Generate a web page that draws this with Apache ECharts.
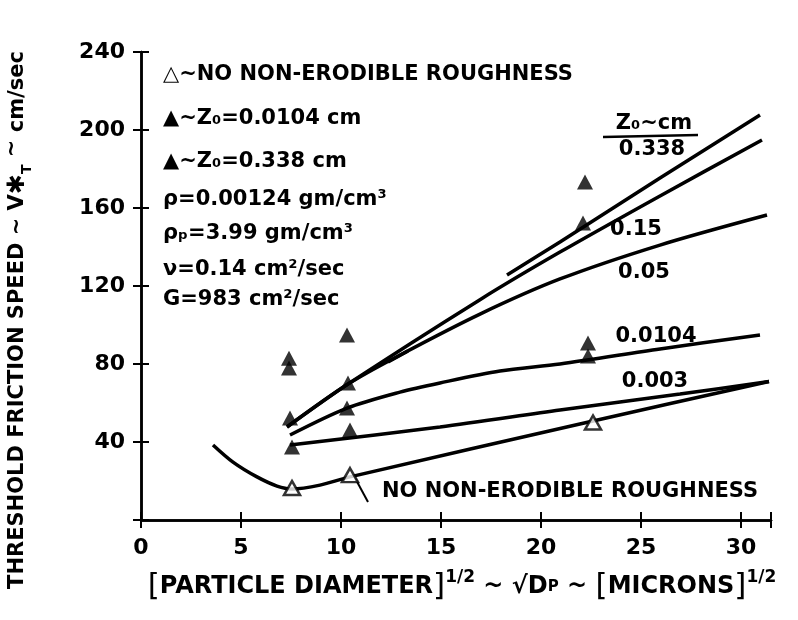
<!DOCTYPE html>
<html>
<head>
<meta charset="utf-8">
<script src="https://cdn.jsdelivr.net/npm/echarts@6/dist/echarts.min.js"></script>
<style>
  html, body { margin: 0; padding: 0; background: #fff; }
  #chart { width: 798px; height: 620px; }
</style>
</head>
<body>
<div id="chart"></div>
<script>
/* ── Data ─────────────────────────────────────────────── */
// [sqrt(Dp), V*T] pairs
const noRoughCurve = [[3.6,38.5],[4.6,29.7],[5.8,22.1],[6.8,17.4],[7.55,15.9],[8.95,17.9],[10.45,22.1],[22.6,50.8],[31.4,71]];
const z0003Curve   = [[7.45,38.5],[14.95,47.7],[20.95,56.4],[26.95,64.6],[31.4,71]];
const z00104Curve  = [[7.45,43.6],[10.3,57.4],[12.95,65.6],[14.95,70.3],[17.95,76.4],[20.95,80],[25.95,87.7],[30.95,94.9]];
const z005Curve    = [[7.3,47.7],[10.35,69.7],[12.95,84.6],[16.95,105.6],[20.95,123.6],[25.95,141],[31.3,156.4]];
const z015Curve    = [[7.3,47.7],[10.35,69.7],[16.95,113],[20.95,137.4],[25.95,166.2],[31.05,194.9]];
const z0338Curve   = [[12.35,81],[13.35,86.7],null,[18.3,125.6],[20.95,142.6],[25.95,175.4],[30.95,207.7]];
const openPoints   = [[7.55,16.4],[10.45,23],[22.6,50]];
const filledPoints = [[7.45,52.3],[7.4,78],[7.4,83],[7.55,37.4],[10.35,70.3],[10.3,57.4],[10.45,46.2],[10.3,94.9],[22.2,173.3],[22.1,152.3],[22.35,90.8],[22.35,84.1]];
const leaderLine   = [[10.7,21.5],[11.35,9.2]];

const xTicks = [0, 5, 10, 15, 20, 25, 30];
const yTicks = [40, 80, 120, 160, 200, 240];

const legendLines = [
  '△~NO NON-ERODIBLE ROUGHNESS',
  '▲~Z₀=0.0104 cm',
  '▲~Z₀=0.338 cm',
  'ρ=0.00124 gm/cm³',
  'ρₚ=3.99 gm/cm³',
  'ν=0.14 cm²/sec',
  'G=983 cm²/sec'
];
const curveLabels = ['0.338', '0.15', '0.05', '0.0104', '0.003', 'NO NON-ERODIBLE ROUGHNESS'];

/* ── Chart ─────────────────────────────────────────────── */
const FONT = '"DejaVu Sans", "Liberation Sans", sans-serif';
const INK = '#000';

function lineSeries(data) {
  return {
    type: 'line', data, symbol: 'none', smooth: 0.3, connectNulls: false,
    lineStyle: { color: INK, width: 3.5 }, z: 3
  };
}

const chart = echarts.init(document.getElementById('chart'), null, { renderer: 'canvas' });

const axisCommon = {
  axisLine: { show: true, lineStyle: { color: INK, width: 2.5 } },
  axisTick: { show: true, inside: true, length: 8, lineStyle: { color: INK, width: 2 } },
  splitLine: { show: false }
};

const legendY = [75, 119, 162, 200, 234, 270, 300];
const labelPos = [[652, 150], [636, 230], [644, 273], [656, 337], [655, 382], [570, 492]];

const graphics = [];
legendLines.forEach((t, i) => {
  graphics.push({
    type: 'text', x: 163, y: legendY[i],
    style: { text: t, font: 'bold 21px ' + FONT, fill: INK, verticalAlign: 'middle' }
  });
});
curveLabels.forEach((t, i) => {
  graphics.push({
    type: 'text', x: labelPos[i][0], y: labelPos[i][1],
    style: { text: t, font: 'bold 21px ' + FONT, fill: INK, align: 'center', verticalAlign: 'middle' }
  });
});
graphics.push(
  { type: 'text', x: 654, y: 124, style: { text: 'Z₀~cm', font: 'bold 21px ' + FONT, fill: INK, align: 'center', verticalAlign: 'middle' } },
  { type: 'line', shape: { x1: 603, y1: 137, x2: 698, y2: 135 }, style: { stroke: INK, lineWidth: 2.5 } },
  {
    type: 'text', x: 18, y: 320, rotation: Math.PI / 2,
    style: {
      text: '{a|THRESHOLD FRICTION SPEED ~ V}{s|✱}{t|T}{a| }{u|~}{a| cm/sec}',
      align: 'center', verticalAlign: 'middle',
      rich: {
        a: { font: 'bold 21px ' + FONT, fill: INK, lineHeight: 32, verticalAlign: 'middle' },
        s: { font: 'bold 24px ' + FONT, fill: INK, lineHeight: 32, verticalAlign: 'middle' },
        t: { font: 'bold 14px ' + FONT, fill: INK, lineHeight: 32, verticalAlign: 'bottom' },
        u: { font: 'bold 21px ' + FONT, fill: INK, lineHeight: 32, verticalAlign: 'top' }
      }
    }
  },
  {
    type: 'text', x: 462, y: 587,
    style: {
      text: '{b|[}{a|PARTICLE DIAMETER}{b|]}{p|1/2}{a| ~ √D}{q|P}{a| ~ }{b|[}{a|MICRONS}{b|]}{p|1/2}',
      align: 'center', verticalAlign: 'middle',
      rich: {
        a: { font: 'bold 24px ' + FONT, fill: INK, lineHeight: 36, verticalAlign: 'middle' },
        b: { font: '31px ' + FONT, fill: INK, lineHeight: 36, verticalAlign: 'middle' },
        p: { font: 'bold 17px ' + FONT, fill: INK, lineHeight: 36, verticalAlign: 'top' },
        q: { font: 'bold 15px ' + FONT, fill: INK, lineHeight: 36, verticalAlign: 'middle' }
      }
    }
  }
);

const option = {
  backgroundColor: '#fff',
  animation: false,
  grid: { left: 141, right: 27, top: 52, bottom: 100 },
  xAxis: [
    Object.assign({
      type: 'value', min: 0, max: 31.5, interval: 5, position: 'bottom',
      axisLabel: {
        color: INK, fontSize: 22, fontWeight: 'bold', fontFamily: FONT, margin: 17,
        formatter: v => (xTicks.includes(v) ? String(v) : '')
      }
    }, axisCommon),
    Object.assign({
      type: 'value', min: 0, max: 31.5, interval: 5, position: 'top',
      axisLabel: { show: false }
    }, axisCommon)
  ],
  yAxis: [
    Object.assign({
      type: 'value', min: 0, max: 240, interval: 40, position: 'left',
      axisLabel: {
        color: INK, fontSize: 22, fontWeight: 'bold', fontFamily: FONT, margin: 16,
        formatter: v => (yTicks.includes(v) ? String(v) : '')
      }
    }, axisCommon),
    Object.assign({
      type: 'value', min: 0, max: 240, interval: 40, position: 'right',
      axisLabel: { show: false }
    }, axisCommon)
  ],
  series: [
    lineSeries(noRoughCurve),
    lineSeries(z0003Curve),
    lineSeries(z00104Curve),
    lineSeries(z005Curve),
    lineSeries(z015Curve),
    lineSeries(z0338Curve),
    { type: 'line', data: leaderLine, symbol: 'none', lineStyle: { color: INK, width: 2 } },
    {
      type: 'scatter', data: openPoints, symbol: 'triangle', symbolSize: [16, 14],
      itemStyle: { color: '#fff', borderColor: INK, borderWidth: 2.5 }, z: 5
    },
    {
      type: 'scatter', data: filledPoints, symbol: 'triangle', symbolSize: [16, 15],
      itemStyle: { color: INK }, z: 5
    }
  ],
  graphic: graphics
};

chart.setOption(option);
</script>
</body>
</html>
